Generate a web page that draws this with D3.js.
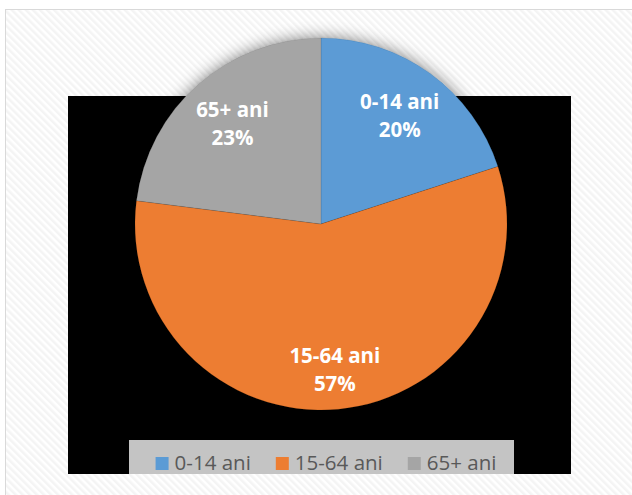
<!DOCTYPE html>
<html>
<head>
<meta charset="utf-8">
<script src="https://cdn.jsdelivr.net/npm/d3@7"></script>
<style>
  html, body { margin: 0; padding: 0; background: #fff; }
  svg { display: block; }
</style>
</head>
<body>
<div id="grafic"></div>
<script>
// date
const categorii = ['0-14 ani', '15-64 ani', '65+ ani'];
const procente = [20, 57, 23];
const culori = ['#5b9bd5', '#ed7d31', '#a5a5a5'];

const width = 632;
const height = 495;

const svg = d3.select('#grafic').append('svg')
    .attr('width', width)
    .attr('height', height);

const defs = svg.append('defs');

// fundal cu dungi fine
const model = defs.append('pattern')
    .attr('id', 'dungi')
    .attr('width', 5)
    .attr('height', 5)
    .attr('patternUnits', 'userSpaceOnUse')
    .attr('patternTransform', 'rotate(-45)');
model.append('rect').attr('width', 5).attr('height', 5).attr('fill', '#ffffff');
model.append('rect').attr('width', 2.5).attr('height', 5).attr('fill', '#f4f4f4');

// umbra difuza in jurul placintei
const umbra = defs.append('filter')
    .attr('id', 'umbra')
    .attr('x', '-20%').attr('y', '-20%')
    .attr('width', '140%').attr('height', '140%');
umbra.append('feGaussianBlur')
    .attr('in', 'SourceAlpha')
    .attr('stdDeviation', 8)
    .attr('result', 'blur');
umbra.append('feFlood').attr('flood-color', '#000').attr('flood-opacity', 0.5);
umbra.append('feComposite').attr('in2', 'blur').attr('operator', 'in').attr('result', 'sh');
const merge = umbra.append('feMerge');
merge.append('feMergeNode').attr('in', 'sh');
merge.append('feMergeNode').attr('in', 'SourceGraphic');

svg.append('rect')
    .attr('x', 5.5).attr('y', 9.5)
    .attr('width', width).attr('height', height)
    .attr('fill', 'url(#dungi)')
    .attr('stroke', '#d9d9d9')
    .attr('stroke-width', 1);

// zona neagra (plot area)
svg.append('rect')
    .attr('x', 68).attr('y', 96)
    .attr('width', 503).attr('height', 378)
    .attr('fill', '#000');

// caseta legendei
svg.append('rect')
    .attr('x', 129).attr('y', 440)
    .attr('width', 385).attr('height', 34)
    .attr('fill', '#c4c4c4');

const cx = 321;
const cy = 224;
const R = 186;

const pie = d3.pie().sort(null).value(d => d);
const arcs = pie(procente);
const arc = d3.arc().innerRadius(0).outerRadius(R);

const g = svg.append('g')
    .attr('transform', `translate(${cx},${cy})`);

g.append('g')
    .attr('filter', 'url(#umbra)')
    .selectAll('path')
    .data(arcs)
    .enter().append('path')
    .attr('d', arc)
    .attr('fill', (d, i) => culori[i])
    .attr('stroke', 'rgba(0,0,0,0.15)')
    .attr('stroke-width', 0.6);

// etichete in felii
const eticheta = g.selectAll('.eticheta')
    .data(arcs)
    .enter().append('text')
    .attr('class', 'eticheta')
    .attr('transform', d => {
        const r = R * (d.endAngle - d.startAngle > Math.PI ? 0.79 : 0.72);
        const c = d3.arc().innerRadius(r).outerRadius(r).centroid(d);
        return `translate(${c[0]},${c[1]})`;
    })
    .attr('text-anchor', 'middle')
    .style('font-family', '"Open Sans", sans-serif')
    .style('font-weight', 'bold')
    .style('font-size', '20.5px')
    .attr('fill', '#fff');

eticheta.append('tspan')
    .attr('x', 0).attr('y', -7)
    .text((d, i) => categorii[i]);
eticheta.append('tspan')
    .attr('x', 0).attr('y', 21)
    .text(d => d.value + '%');

// legenda
const legenda = svg.append('g');
const elemente = legenda.selectAll('.elem')
    .data(categorii)
    .enter().append('g')
    .attr('class', 'elem');

elemente.append('rect')
    .attr('width', 13).attr('height', 13)
    .attr('y', 457)
    .attr('fill', (d, i) => culori[i]);

elemente.append('text')
    .attr('x', 19).attr('y', 470)
    .style('font-family', '"Open Sans", sans-serif')
    .style('font-size', '20.5px')
    .attr('fill', '#595959')
    .text(d => d);

let pozX = 0;
elemente.each(function () {
    const w = d3.select(this).select('text').node().getComputedTextLength();
    d3.select(this).attr('transform', `translate(${pozX},0)`);
    pozX += 19 + w + 25;
});
const latime = pozX - 25;
legenda.attr('transform', `translate(${326 - latime / 2},0)`);
</script>
</body>
</html>
